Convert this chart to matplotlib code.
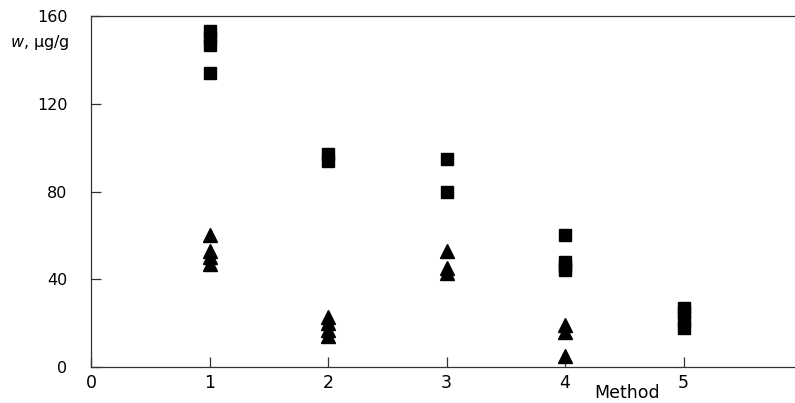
import matplotlib
matplotlib.use("Agg")
import matplotlib.pyplot as plt

# Data
sq_method = [1, 1, 1, 1, 2, 2, 3, 3, 4, 4, 4, 4, 5, 5, 5, 5]
sq_values = [153, 150, 147, 134, 97, 94, 95, 80, 60, 48, 46, 44, 27, 25, 21, 18]
tri_method = [1, 1, 1, 1, 2, 2, 2, 2, 3, 3, 3, 4, 4, 4]
tri_values = [60, 53, 50, 47, 23, 20, 17, 14, 53, 45, 43, 19, 16, 5]
x_ticks = [0, 1, 2, 3, 4, 5]
y_ticks = [0, 40, 80, 120, 160]

fig = plt.figure(figsize=(7.95, 4.03), dpi=100)
ax = fig.add_axes([91/795, 36/403, 1 - 91/795, 351/403])

ax.plot(sq_method, sq_values, linestyle="none", marker="s", ms=9.3,
        color="black", mec="black")
ax.plot(tri_method, tri_values, linestyle="none", marker="^", ms=9.5,
        color="black", mec="black")

ax.set_xlim(0, 5.94)
ax.set_ylim(0, 160)
ax.set_xticks(x_ticks)
ax.set_yticks(y_ticks)
ax.set_xticklabels([str(v) for v in x_ticks], family="Liberation Sans Narrow", fontsize=12.5)
ax.set_yticklabels([str(v) for v in y_ticks], family="DejaVu Sans", fontsize=11.5)
ax.tick_params(axis="x", direction="in", length=7, width=0.9, pad=5, color="#333333")
ax.tick_params(axis="y", direction="in", length=7, width=0.9, pad=17, color="#333333")
for s in ["left", "bottom", "top"]:
    ax.spines[s].set_linewidth(0.9)
    ax.spines[s].set_color("#333333")
ax.spines["right"].set_visible(False)

fig.text(10/795, 1 - 43/403, r"$\mathit{w}$, μg/g", fontsize=11.5, va="center", ha="left")
fig.text(627/795, 1 - 393/403, "Method", family="Liberation Sans Narrow",
         fontsize=12.5, va="center", ha="center")

fig.savefig("out.png", dpi=100)
